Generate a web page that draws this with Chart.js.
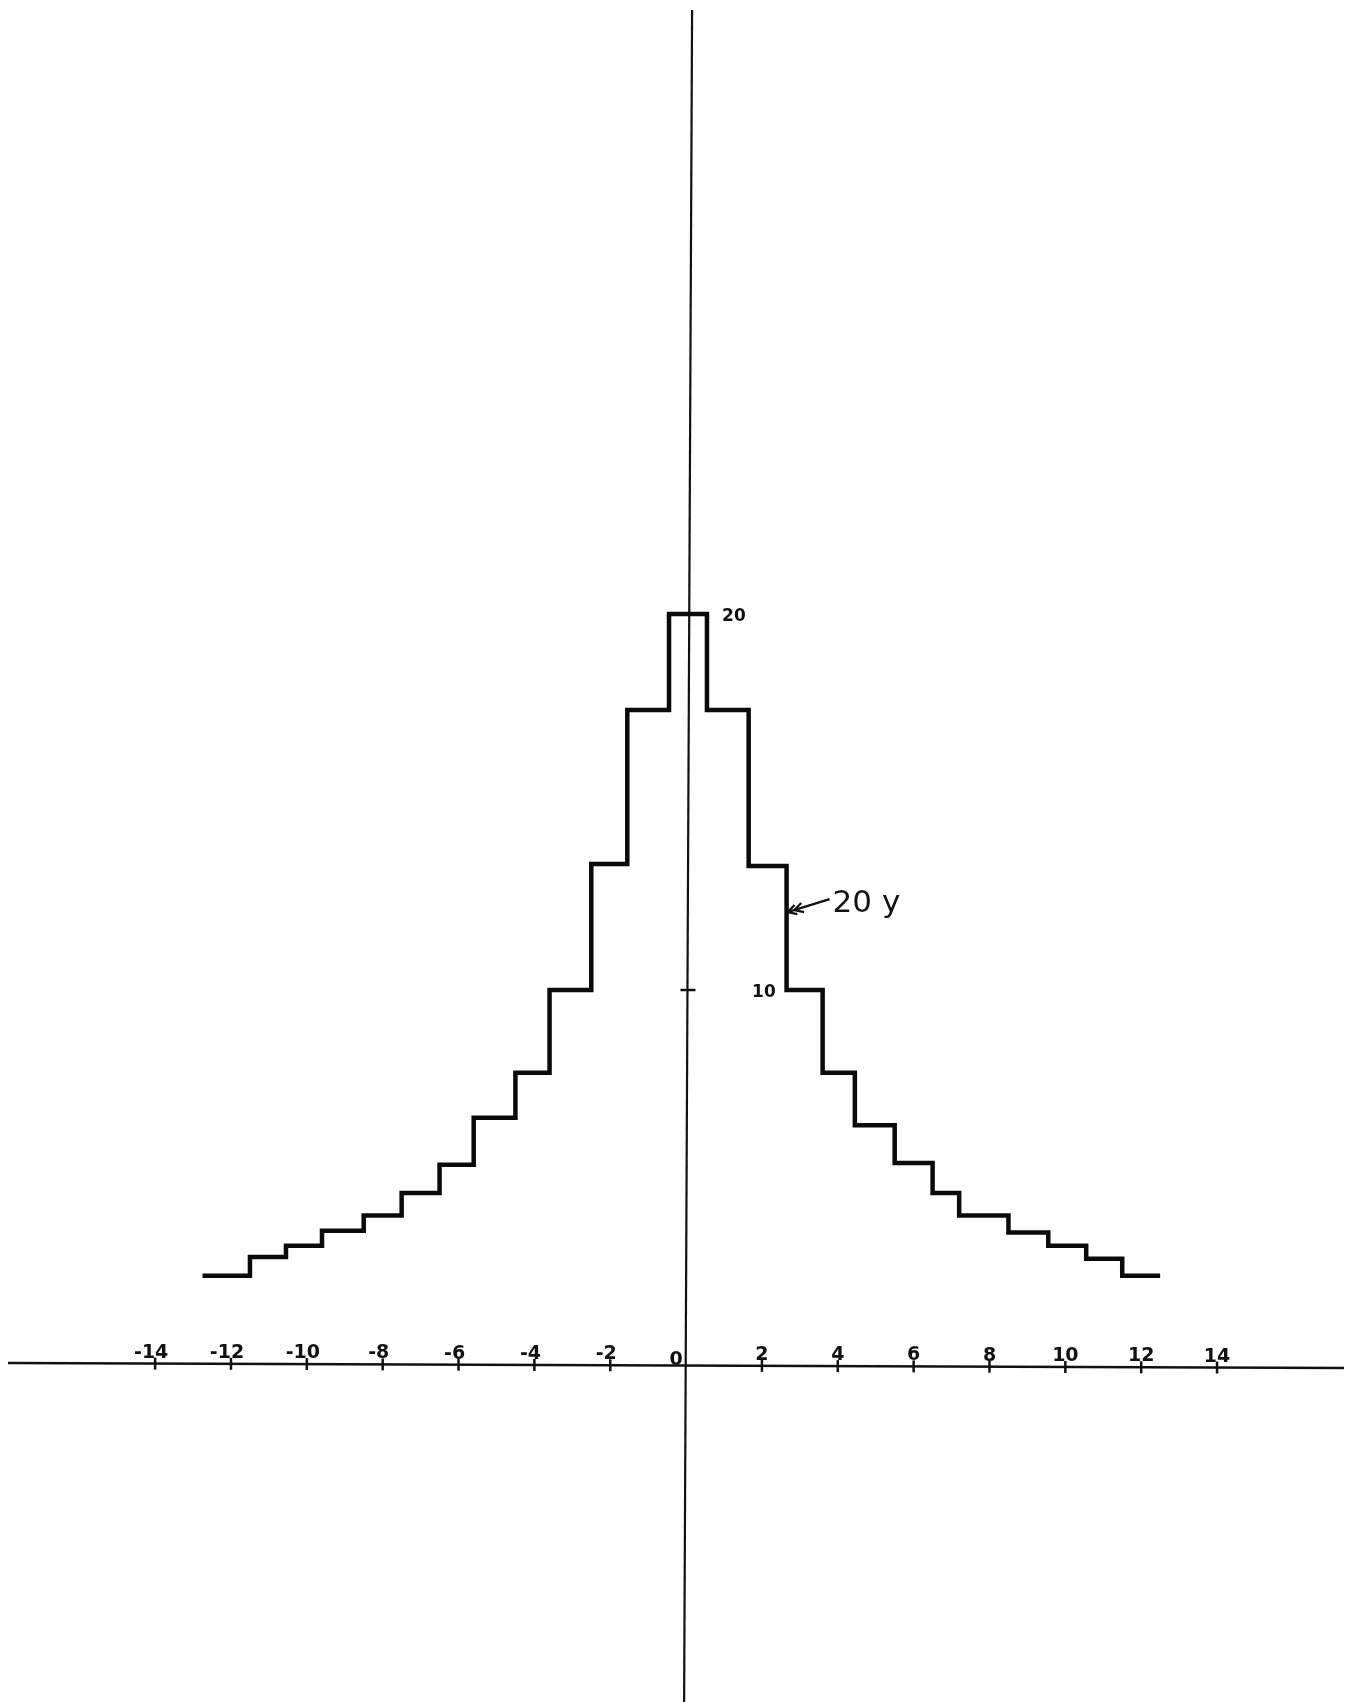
<!DOCTYPE html>
<html>
<head>
<meta charset="utf-8">
<title>20 y</title>
<script src="https://cdn.jsdelivr.net/npm/chart.js@4.4.1/dist/chart.umd.min.js"></script>
<style>
    html, body { margin: 0; padding: 0; background: #fff; }
    #wrap { width: 1357px; height: 1702px; }
</style>
</head>
<body>
<div id="wrap"><canvas id="myChart" width="1357" height="1702"></canvas></div>
<script>
// bin edges along x, the last one closes the final step
var binEdges = [-12.75, -11.5, -10.55, -9.6, -8.5, -7.5, -6.5, -5.6, -4.5, -3.6, -2.5, -1.55, -0.45,
                0.55, 1.65, 2.65, 3.6, 4.45, 5.5, 6.5, 7.2, 8.5, 9.55, 10.55, 11.5, 12.5];
// height of 20y over each bin
var binValues = [2.4, 2.9, 3.2, 3.6, 4.0, 4.6, 5.35, 6.6, 7.8, 10, 13.35, 17.45, 20,
                 17.45, 13.3, 10, 7.8, 6.4, 5.4, 4.6, 4.0, 3.55, 3.2, 2.85, 2.4];
var xTickValues = [-14, -12, -10, -8, -6, -4, -2, 2, 4, 6, 8, 10, 12, 14];
var yTickValues = [10];
var yLabelValues = [20, 10];
var curveLabel = '20 y';

document.addEventListener('DOMContentLoaded', function () {
    var chartContext = document.getElementById('myChart').getContext('2d');

    var points = binEdges.map(function (edge, i) {
        return { x: edge, y: binValues[Math.min(i, binValues.length - 1)] };
    });

    // hand ruled axes crossing at the origin, with tick marks and lettering
    var axesPlugin = {
        id: 'crossAxes',
        beforeDatasetsDraw: function (chart) {
            var ctx = chart.ctx;
            var xs = chart.scales.x;
            var ys = chart.scales.y;
            var x0 = xs.getPixelForValue(0);
            var y0 = ys.getPixelForValue(0);
            var H = chart.height;

            // the ruled lines lean a little
            var vTop = x0 + 6, vBottom = x0 - 2;
            var hLeft = y0 - 3, hRight = y0 + 2;
            var hStart = 8, hEnd = 1344;
            function axisYAt(px) { return hLeft + (hRight - hLeft) * (px - hStart) / (hEnd - hStart); }
            function axisXAt(py) { return vTop + (vBottom - vTop) * (py - 10) / (H - 10); }

            ctx.save();
            ctx.strokeStyle = '#111';
            ctx.fillStyle = '#111';
            ctx.lineCap = 'butt';

            ctx.lineWidth = 2.2;
            ctx.beginPath();
            ctx.moveTo(vTop, 10);
            ctx.lineTo(vBottom, H);
            ctx.stroke();

            ctx.lineWidth = 2.6;
            ctx.beginPath();
            ctx.moveTo(hStart, hLeft);
            ctx.lineTo(hEnd, hRight);
            ctx.stroke();

            // x ticks and labels
            ctx.font = 'bold 19px "DejaVu Sans"';
            ctx.textBaseline = 'alphabetic';
            xTickValues.forEach(function (v) {
                var px = xs.getPixelForValue(v);
                var ly = axisYAt(px);
                ctx.lineWidth = 2.5;
                ctx.beginPath();
                ctx.moveTo(px, ly - 6);
                ctx.lineTo(px, ly + 6);
                ctx.stroke();

                var digits = String(Math.abs(v));
                var dw = ctx.measureText(digits).width;
                ctx.textAlign = 'right';
                ctx.fillText(String(v), px + dw / 2, ly - 6);
            });
            ctx.textAlign = 'center';
            ctx.fillText('0', x0 - 10, y0 - 1);

            // y tick marks
            yTickValues.forEach(function (v) {
                var py = ys.getPixelForValue(v);
                var lx = axisXAt(py);
                ctx.lineWidth = 2.5;
                ctx.beginPath();
                ctx.moveTo(lx - 7, py);
                ctx.lineTo(lx + 8, py);
                ctx.stroke();
            });

            // y labels sit to the right of the curve
            ctx.font = 'bold 17px "DejaVu Sans"';
            ctx.textAlign = 'left';
            yLabelValues.forEach(function (v) {
                var py = ys.getPixelForValue(v);
                var offset = v === 20 ? 36 : 66;
                ctx.fillText(String(v), x0 + offset, py + 7);
            });
            ctx.restore();
        },
        afterDatasetsDraw: function (chart) {
            var ctx = chart.ctx;
            var xs = chart.scales.x;
            var ys = chart.scales.y;

            // arrow pointing at the riser at x = 2.65
            var tipX = xs.getPixelForValue(binEdges[15]) + 1;
            var tipY = ys.getPixelForValue(12.07);
            var tailX = tipX + 42, tailY = tipY - 13;
            var len = Math.hypot(tailX - tipX, tailY - tipY);
            var ux = (tailX - tipX) / len, uy = (tailY - tipY) / len;

            ctx.save();
            ctx.strokeStyle = '#111';
            ctx.fillStyle = '#111';
            ctx.lineWidth = 2.2;
            ctx.beginPath();
            ctx.moveTo(tailX, tailY);
            ctx.lineTo(tipX, tipY);
            ctx.stroke();

            [0, 7].forEach(function (back) {
                var bx = tipX + ux * back, by = tipY + uy * back;
                var a = 0.5;
                ctx.beginPath();
                ctx.moveTo(bx + 10 * (ux * Math.cos(a) - uy * Math.sin(a)), by + 10 * (uy * Math.cos(a) + ux * Math.sin(a)));
                ctx.lineTo(bx, by);
                ctx.lineTo(bx + 10 * (ux * Math.cos(-a) - uy * Math.sin(-a)), by + 10 * (uy * Math.cos(-a) + ux * Math.sin(-a)));
                ctx.stroke();
            });

            ctx.font = '31px "DejaVu Sans"';
            ctx.textAlign = 'left';
            ctx.textBaseline = 'alphabetic';
            ctx.fillText(curveLabel, tailX + 3, tipY);
            ctx.restore();
        }
    };

    new Chart(chartContext, {
        type: 'line',
        data: {
            datasets: [{
                label: curveLabel,
                data: points,
                stepped: 'before',
                borderColor: '#0a0a0a',
                borderWidth: 4.5,
                borderJoinStyle: 'miter',
                borderCapStyle: 'butt',
                pointRadius: 0,
                fill: false,
                tension: 0
            }]
        },
        options: {
            responsive: false,
            animation: false,
            events: [],
            layout: { padding: 0 },
            scales: {
                x: { type: 'linear', min: -18.09, max: 17.69, display: false },
                y: { type: 'linear', min: -8.936, max: 36.33, display: false }
            },
            plugins: {
                legend: { display: false },
                tooltip: { enabled: false }
            }
        },
        plugins: [axesPlugin]
    });
});
</script>
</body>
</html>
